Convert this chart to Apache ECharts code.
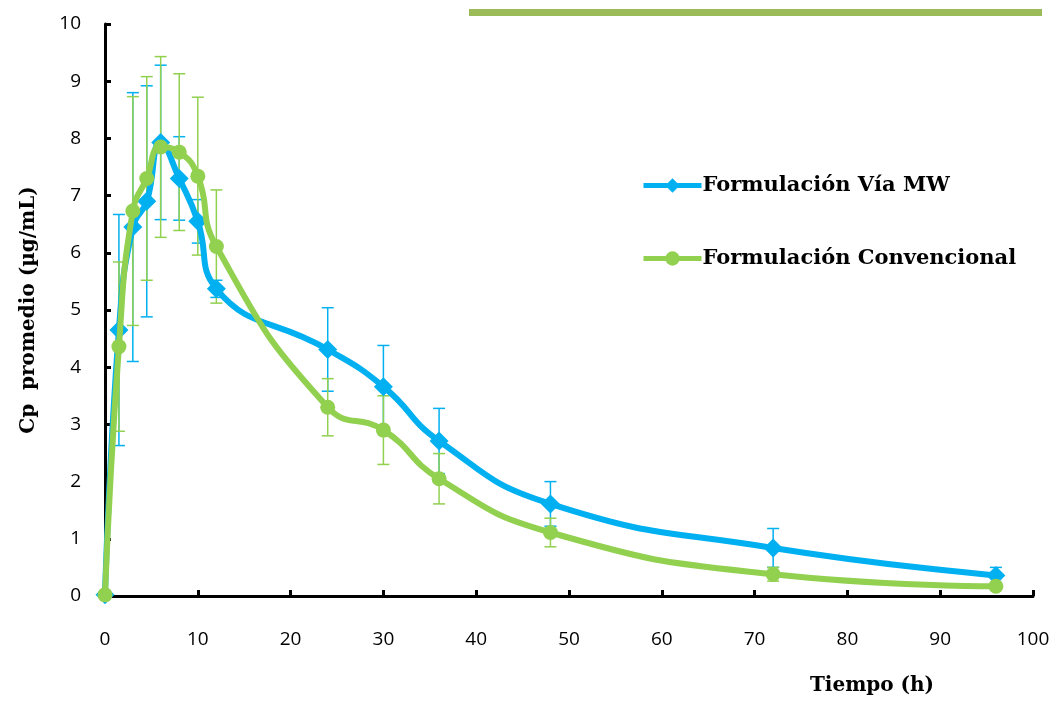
<!DOCTYPE html>
<html>
<head>
<meta charset="utf-8">
<script src="https://cdn.jsdelivr.net/npm/echarts@6/dist/echarts.min.js"></script>
<style>
  html, body { margin: 0; padding: 0; background: #fff; overflow: hidden; }
  #main { width: 1056px; height: 701px; }
</style>
</head>
<body>
<div id="main"></div>
<script type="text/javascript">
// tiempos de muestreo (h)
var tiempos = [0, 1.5, 3, 4.5, 6, 8, 10, 12, 24, 30, 36, 48, 72, 96];

// Formulación Vía MW: media y desviación
var mwMedia = [0.02, 4.65, 6.45, 6.9, 7.93, 7.3, 6.55, 5.37, 4.31, 3.66, 2.71, 1.61, 0.84, 0.36];
var mwDE    = [0, 2.02, 2.35, 2.02, 1.35, 0.73, 0.38, 0.15, 0.73, 0.72, 0.57, 0.39, 0.34, 0.14];

// Formulación Convencional: media y desviación
var convMedia = [0.02, 4.36, 6.73, 7.3, 7.85, 7.76, 7.34, 6.11, 3.3, 2.9, 2.05, 1.11, 0.38, 0.17];
var convDE    = [0, 1.48, 2.0, 1.78, 1.58, 1.37, 1.38, 0.99, 0.5, 0.6, 0.44, 0.25, 0.12, 0.05];

var nombres = ['Formulación Vía MW', 'Formulación Convencional'];
var colMW = '#00B0F0';
var colConv = '#92D050';

function puntos(media) {
    return tiempos.map(function (t, i) { return [t, media[i]]; });
}
function barras(media, de) {
    return tiempos.map(function (t, i) {
        return [t, Math.max(0, media[i] - de[i]), media[i] + de[i]];
    });
}
// barra de error vertical con remates
function errorBar(color) {
    return function (params, api) {
        var x = api.value(0);
        var lo = api.coord([x, api.value(1)]);
        var hi = api.coord([x, api.value(2)]);
        var w = 6;
        var st = { stroke: color, lineWidth: 1.5 };
        return {
            type: 'group',
            children: [
                { type: 'line', shape: { x1: hi[0], y1: hi[1], x2: lo[0], y2: lo[1] }, style: st },
                { type: 'line', shape: { x1: hi[0] - w, y1: hi[1], x2: hi[0] + w, y2: hi[1] }, style: st },
                { type: 'line', shape: { x1: lo[0] - w, y1: lo[1], x2: lo[0] + w, y2: lo[1] }, style: st }
            ]
        };
    };
}

var fuenteNum = 'Open Sans, Noto Sans, sans-serif';
var fuenteTit = 'DejaVu Serif, serif';

var myChart = echarts.init(document.getElementById('main'));

var option = {
    backgroundColor: '#fff',
    animation: false,
    grid: { left: 105, right: 23, top: 24, bottom: 91, containLabel: false },
    legend: {
        orient: 'vertical',
        left: 636,
        top: 170,
        itemGap: 52,
        itemWidth: 58,
        itemHeight: 18,
        data: nombres,
        lineStyle: { width: 5 },
        textStyle: { fontFamily: fuenteTit, fontWeight: 'bold', fontSize: 21, color: '#000', padding: [0, 0, 0, -4] }
    },
    xAxis: {
        type: 'value',
        min: 0, max: 100, interval: 10,
        name: 'Tiempo (h)',
        nameLocation: 'middle',
        nameGap: 0,
        nameTextStyle: { fontFamily: fuenteTit, fontWeight: 'bold', fontSize: 20, color: '#000', padding: [80, 0, 0, 606] },
        axisLine: { lineStyle: { color: '#000', width: 3 } },
        axisTick: { inside: true, length: 6, lineStyle: { color: '#000', width: 3 } },
        axisLabel: { margin: 34, fontFamily: fuenteNum, fontSize: 19, color: '#000' },
        splitLine: { show: false }
    },
    yAxis: {
        type: 'value',
        min: 0, max: 10, interval: 1,
        name: 'Cp  promedio (µg/mL)',
        nameLocation: 'middle',
        nameGap: 66,
        nameTextStyle: { fontFamily: fuenteTit, fontWeight: 'bold', fontSize: 20, color: '#000' },
        axisLine: { show: true, lineStyle: { color: '#000', width: 3 } },
        axisTick: { show: true, inside: true, length: 6, lineStyle: { color: '#000', width: 3 } },
        axisLabel: { margin: 24, fontFamily: fuenteNum, fontSize: 19, color: '#000' },
        splitLine: { show: false }
    },
    graphic: [
        { type: 'rect', shape: { x: 469, y: 9, width: 573, height: 7 }, style: { fill: '#9BBB59' } }
    ],
    series: [
        {
            name: 'eb-mw', type: 'custom', renderItem: errorBar(colMW),
            data: barras(mwMedia, mwDE), z: 1, silent: true
        },
        {
            name: 'eb-conv', type: 'custom', renderItem: errorBar(colConv),
            data: barras(convMedia, convDE), z: 1, silent: true
        },
        {
            name: nombres[0], type: 'line', smooth: 0.5,
            data: puntos(mwMedia),
            symbol: 'diamond', symbolSize: 19,
            itemStyle: { color: colMW },
            lineStyle: { color: colMW, width: 6 },
            z: 3
        },
        {
            name: nombres[1], type: 'line', smooth: 0.5,
            data: puntos(convMedia),
            symbol: 'circle', symbolSize: 15,
            itemStyle: { color: colConv },
            lineStyle: { color: colConv, width: 6 },
            z: 4
        }
    ]
};

myChart.setOption(option);
</script>
</body>
</html>
